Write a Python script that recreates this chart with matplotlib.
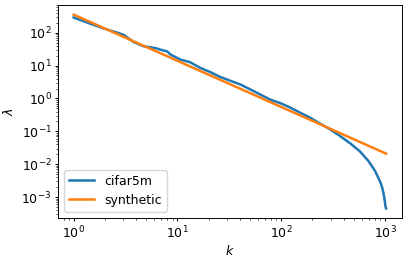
import matplotlib
matplotlib.use("Agg")
import matplotlib.pyplot as plt

# cifar5m eigenvalue spectrum
cifar_k = [1, 1.5, 2.27, 2.7, 3.05, 3.4, 3.8, 4.74, 5.5, 6.14, 7.0, 7.96, 8.6,
           10.7, 13.3, 16.6, 20.8, 25.9, 32, 40.4, 50, 62.8, 78, 98, 122,
           152, 190, 237, 296, 369, 461, 575, 691, 801, 895, 935, 963,
           990, 1007, 1024]
cifar_lam = [290, 180, 115, 98, 85, 66, 52, 38.5, 36, 34, 30, 27, 21.5,
             15.2, 12.6, 8.5, 6.3, 4.5, 3.5, 2.66, 1.9, 1.32, 0.93, 0.72, 0.53,
             0.369, 0.26, 0.171, 0.115, 0.072, 0.0433, 0.0243, 0.0126,
             0.00627, 0.00299, 0.00205, 0.00139, 0.00085, 0.00055, 0.00045]

# synthetic power law
synth_k = [1, 1024]
synth_lam = [355, 0.021]

plt.rcParams.update({
    "font.size": 9,
    "xtick.major.size": 2.2, "ytick.major.size": 2.2,
    "xtick.minor.size": 1.3, "ytick.minor.size": 1.3,
    "xtick.major.pad": 2.4, "ytick.major.pad": 2.4,
    "xtick.major.width": 0.7, "ytick.major.width": 0.7,
    "xtick.minor.width": 0.5, "ytick.minor.width": 0.5,
    "axes.linewidth": 0.7,
})

fig = plt.figure(figsize=(4.07, 2.59), dpi=100)
ax = fig.add_axes([0.1425, 0.158, 0.8445, 0.823])
ax.plot(cifar_k, cifar_lam, color="#1f77b4", lw=1.8, label="cifar5m")
ax.plot(synth_k, synth_lam, color="#ff7f0e", lw=1.8, label="synthetic")
ax.set_xscale("log")
ax.set_yscale("log")
ax.set_xlim(0.707, 1448)
ax.set_ylim(2.3e-4, 700)
ax.set_xlabel(r"$k$", labelpad=2)
ax.set_ylabel(r"$\lambda$", labelpad=4)
ax.legend(loc="lower left")
fig.savefig("out.png", dpi=100)
